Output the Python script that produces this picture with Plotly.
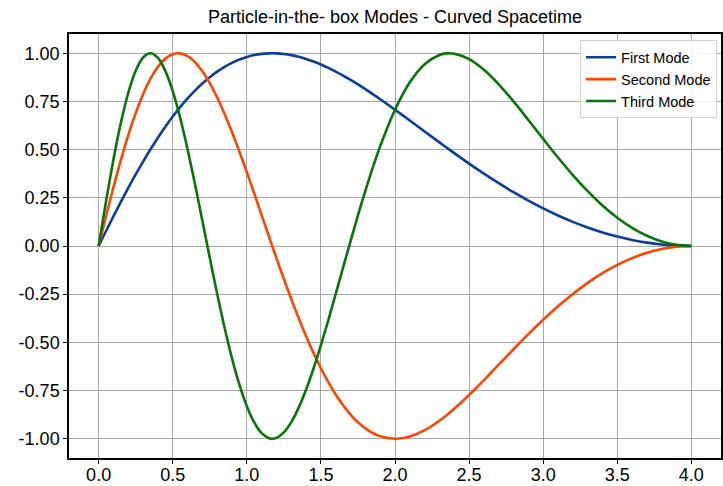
import plotly.graph_objects as go

x_vals = [0.0, 0.05, 0.1, 0.15, 0.2, 0.25, 0.3, 0.35, 0.4, 0.45, 0.5, 0.55, 0.6,
          0.65, 0.7, 0.75, 0.8, 0.85, 0.9, 0.95, 1.0, 1.05, 1.1, 1.15, 1.17, 1.2,
          1.25, 1.3, 1.35, 1.4, 1.45, 1.5, 1.55, 1.6, 1.65, 1.7, 1.75, 1.8, 1.85,
          1.9, 2.0, 2.1, 2.2, 2.3, 2.35, 2.4, 2.5, 2.6, 2.7, 2.8, 2.9, 3.0, 3.1,
          3.2, 3.3, 3.4, 3.5, 3.6, 3.7, 3.8, 3.9, 4.0]

first_mode = [0.0, 0.078, 0.1545, 0.2291, 0.3015, 0.3713, 0.4382, 0.5018, 0.5621,
              0.6187, 0.6715, 0.7205, 0.7654, 0.8065, 0.8433, 0.8761, 0.9048,
              0.9296, 0.9505, 0.9675, 0.9808, 0.9905, 0.9968, 0.9997, 1.0, 0.9995,
              0.9963, 0.9903, 0.9816, 0.9705, 0.9571, 0.9415, 0.9241, 0.9048,
              0.884, 0.8617, 0.8383, 0.8136, 0.788, 0.7617, 0.7071, 0.6509,
              0.5941, 0.5375, 0.5095, 0.4818, 0.4275, 0.3754, 0.3258, 0.279,
              0.2353, 0.1951, 0.1584, 0.1253, 0.0961, 0.0706, 0.0491, 0.0314,
              0.0177, 0.0079, 0.002, 0.0]

second_mode = [0.0, 0.1555, 0.3053, 0.4461, 0.575, 0.6896, 0.7877, 0.8681, 0.9298,
               0.9722, 0.9952, 0.9993, 0.9851, 0.9537, 0.9065, 0.8449, 0.7705,
               0.6853, 0.591, 0.4895, 0.3827, 0.2723, 0.1603, 0.0481, 0.0035,
               -0.0628, -0.171, -0.2752, -0.3745, -0.468, -0.5547, -0.6344,
               -0.7064, -0.7705, -0.8265, -0.8744, -0.9142, -0.9461, -0.9703,
               -0.9871, -1.0, -0.9883, -0.9558, -0.9065, -0.8768, -0.8443, -0.773,
               -0.6959, -0.616, -0.5358, -0.4575, -0.3827, -0.3127, -0.2487,
               -0.1913, -0.1409, -0.098, -0.0628, -0.0353, -0.0157, -0.0039, 0.0]

third_mode = [0.0, 0.232, 0.4487, 0.6393, 0.795, 0.9092, 0.9781, 1.0, 0.9759,
              0.9088, 0.8032, 0.6653, 0.5023, 0.3216, 0.1312, -0.0613, -0.2487,
              -0.4244, -0.583, -0.7198, -0.8315, -0.9156, -0.971, -0.9974, -1.0,
              -0.9956, -0.967, -0.9138, -0.8388, -0.7449, -0.6355, -0.5141,
              -0.3841, -0.2487, -0.1112, 0.0255, 0.1589, 0.2865, 0.4067, 0.5174,
              0.7071, 0.8495, 0.9435, 0.9914, 0.9995, 0.998, 0.97, 0.9146, 0.8391,
              0.7501, 0.654, 0.5556, 0.4592, 0.3681, 0.2846, 0.2105, 0.1467,
              0.0941, 0.053, 0.0236, 0.0059, 0.0]

series_names = ["First Mode", "Second Mode", "Third Mode"]
series_colors = ["#0b3d9a", "#ff4500", "#0a740a"]

x_ticks = [0.0, 0.5, 1.0, 1.5, 2.0, 2.5, 3.0, 3.5, 4.0]
y_ticks = [-1.0, -0.75, -0.5, -0.25, 0.0, 0.25, 0.5, 0.75, 1.0]
y_tick_text = ["-1.00", "-0.75", "-0.50", "-0.25", "0.00", "0.25", "0.50", "0.75", "1.00"]

fig = go.Figure()
for name, ys, col in zip(series_names, [first_mode, second_mode, third_mode], series_colors):
    fig.add_trace(go.Scatter(x=x_vals, y=ys, mode="lines", name=name,
                             line=dict(color=col, width=2.6, shape="spline", smoothing=0.8)))

font_family = "Liberation Sans, Arial, sans-serif"
fig.update_layout(
    width=723, height=486,
    margin=dict(l=69, r=2, t=34, b=28, autoexpand=False),
    paper_bgcolor="white", plot_bgcolor="white",
    title=dict(text="Particle-in-the- box Modes - Curved Spacetime", x=0.5463, xanchor="center",
               y=0.965, yanchor="middle", font=dict(family=font_family, size=18, color="black")),
    font=dict(family=font_family, size=18, color="black"),
    legend=dict(x=0.994, y=0.985, xanchor="right", yanchor="top",
                bgcolor="rgba(255,255,255,0.9)", bordercolor="#d0d0d0", borderwidth=1,
                font=dict(family=font_family, size=14.5, color="black"),
                tracegroupgap=0),
    showlegend=True,
)
fig.update_xaxes(range=[-0.2, 4.2], tickvals=x_ticks, ticktext=[f"{v:.1f}" for v in x_ticks],
                 automargin=False, ticklabelstandoff=-4,
                 showgrid=True, gridcolor="#a8a8a8", gridwidth=1.3, zeroline=False,
                 showline=True, linecolor="black", linewidth=1.5, mirror=True,
                 ticks="outside", ticklen=4, tickcolor="black", tickwidth=1.2,
                 tickfont=dict(size=18))
fig.update_yaxes(range=[-1.1, 1.1], tickvals=y_ticks, ticktext=y_tick_text,
                 automargin=False,
                 showgrid=True, gridcolor="#a8a8a8", gridwidth=1.3, zeroline=False,
                 showline=True, linecolor="black", linewidth=1.5, mirror=True,
                 ticks="outside", ticklen=4, tickcolor="black", tickwidth=1.2,
                 tickfont=dict(size=18))

fig.write_html("out.html", config={"displayModeBar": False},
               post_script="document.body.style.margin='0px';document.body.style.overflow='hidden';")
